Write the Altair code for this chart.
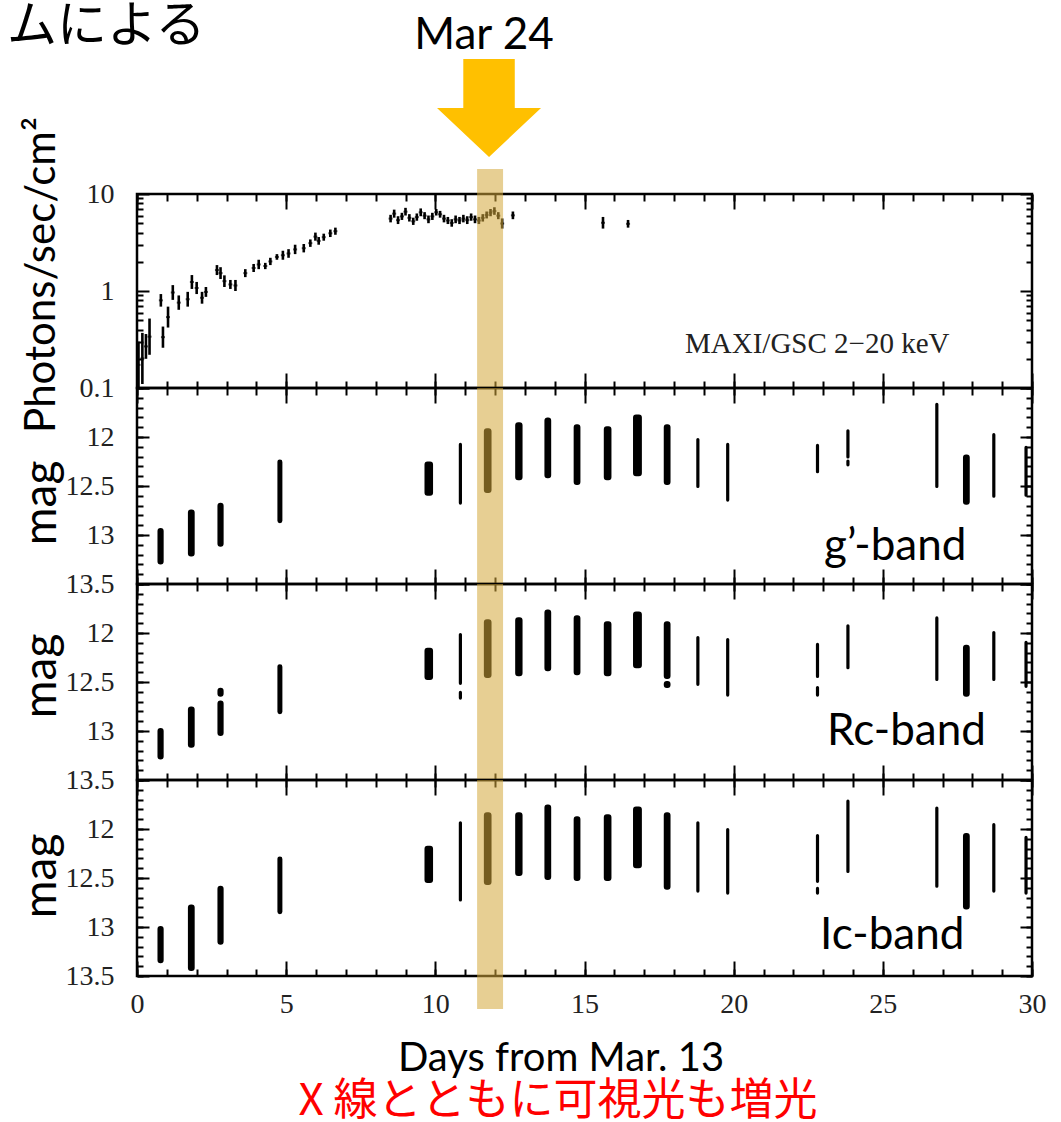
import altair as alt
import pandas as pd

# ---------------- data ----------------
# MAXI/GSC 2-20 keV light curve: day, lower and upper end of each error bar
xray_day = [0.05, 0.18, 0.30, 0.42, 0.80, 0.87, 1.04, 1.20, 1.40, 1.70, 1.84, 2.00, 2.18, 2.31,
            2.68, 2.80, 2.93, 3.13, 3.30, 3.63, 3.91, 4.08, 4.30, 4.47, 4.69, 4.89, 5.08, 5.30,
            5.59, 5.81, 5.98, 6.09, 6.26, 6.48, 6.65,
            8.50, 8.62, 8.75, 8.88, 9.00, 9.13, 9.26, 9.38, 9.51, 9.64, 9.77, 9.90, 10.03, 10.16,
            10.29, 10.42, 10.55, 10.68, 10.81, 10.94, 11.07, 11.20, 11.33, 11.46, 11.59, 11.72,
            11.85, 11.98, 12.11, 12.24, 12.60, 15.62, 16.46]
xray_lo = [0.10, 0.11, 0.20, 0.22, 0.69, 0.26, 0.42, 0.81, 0.64, 0.69, 1.05, 0.93, 0.74, 0.87,
           1.46, 1.33, 1.10, 1.05, 1.00, 1.39, 1.57, 1.68, 1.68, 1.85, 2.10, 2.10, 2.20, 2.40,
           2.50, 2.85, 3.30, 3.00, 3.30, 3.60, 3.80,
           5.1, 5.7, 4.9, 5.4, 6.0, 5.2, 4.8, 5.3, 5.9, 5.5, 5.0, 5.4, 6.0, 5.7,
           5.1, 4.9, 4.6, 5.0, 4.9, 5.1, 4.9, 5.3, 5.0, 4.9, 5.2, 5.6,
           5.9, 6.1, 5.5, 4.4, 5.5, 4.4, 4.5]
xray_hi = [0.30, 0.37, 0.36, 0.52, 0.93, 0.43, 0.69, 1.15, 0.90, 0.98, 1.46, 1.24, 0.98, 1.10,
           1.85, 1.76, 1.45, 1.30, 1.30, 1.68, 1.90, 2.10, 1.95, 2.20, 2.40, 2.60, 2.70, 3.00,
           3.05, 3.40, 4.00, 3.60, 3.90, 4.30, 4.50,
           6.1, 6.9, 5.9, 6.4, 7.2, 6.2, 5.7, 6.3, 7.1, 6.5, 6.0, 6.4, 7.0, 6.7,
           6.1, 5.8, 5.5, 6.0, 5.8, 6.1, 5.9, 6.3, 6.0, 5.8, 6.2, 6.6,
           7.0, 7.3, 6.5, 5.6, 6.6, 5.8, 5.4]

# optical nights: start / end of the observing window (days from Mar. 13)
night_start = [0.72, 1.74, 2.73, 4.74, 9.67, 10.82, 11.66, 12.71, 13.69, 14.67, 15.68,
               16.66, 17.69, 18.78, 19.78, 22.79, 23.81, 26.79, 27.72, 28.70, 29.78]
night_end = [0.86, 1.90, 2.87, 4.84, 9.89, 10.86, 11.85, 12.89, 13.85, 14.83, 15.87,
             16.89, 17.85, 18.82, 19.82, 22.83, 23.85, 26.83, 27.88, 28.74, 29.82]

# magnitude range covered each night
g_lo = [12.94, 12.75, 12.68, 12.24, 12.26, 12.07, 11.92, 11.86, 11.81, 11.88, 11.90,
        11.78, 11.88, 12.02, 12.07, 12.08, 11.93, 11.66, 12.19, 11.97, 12.10]
g_hi = [13.29, 13.21, 13.11, 12.87, 12.59, 12.68, 12.56, 12.43, 12.41, 12.48, 12.43,
        12.39, 12.48, 12.51, 12.65, 12.36, 12.21, 12.51, 12.68, 12.61, 12.60]
r_lo = [12.98, 12.76, 12.70, 12.33, 12.16, 12.01, 11.87, 11.85, 11.77, 11.83, 11.89,
        11.79, 11.89, 12.04, 12.06, 12.11, 11.92, 11.84, 12.13, 11.99, 12.09]
r_hi = [13.28, 13.16, 13.04, 12.82, 12.47, 12.52, 12.45, 12.43, 12.38, 12.42, 12.43,
        12.35, 12.46, 12.53, 12.64, 12.45, 12.36, 12.48, 12.64, 12.48, 12.55]
i_lo = [13.00, 12.78, 12.59, 12.29, 12.18, 11.93, 11.84, 11.84, 11.76, 11.88, 11.86,
        11.78, 11.84, 11.93, 12.00, 12.06, 11.71, 11.78, 12.05, 11.95, 12.08]
i_hi = [13.36, 13.44, 13.17, 12.86, 12.54, 12.73, 12.56, 12.47, 12.51, 12.52, 12.52,
        12.39, 12.61, 12.64, 12.66, 12.54, 12.44, 12.59, 12.81, 12.64, 12.66]

# isolated short segments (night number, 1-based)
g_extra_night = [17]
g_extra_lo = [12.24]
g_extra_hi = [12.29]
r_extra_night = [3, 6, 13, 16]
r_extra_lo = [12.57, 12.60, 12.50, 12.55]
r_extra_hi = [12.64, 12.67, 12.55, 12.64]
i_extra_night = [16]
i_extra_lo = [12.60]
i_extra_hi = [12.66]

# highlighted day (Mar 24) and arrow
band_day = [11.40, 12.27]
arrow_day = [11.80]

# axis tick values
x_major = [0, 5, 10, 15, 20, 25, 30]
x_minor = list(range(0, 31))
flux_major = [0.1, 1, 10]
flux_minor = [0.2, 0.3, 0.4, 0.5, 0.6, 0.7, 0.8, 0.9, 2, 3, 4, 5, 6, 7, 8, 9]
mag_labels = [12, 12.5, 13, 13.5]
mag_major = [11.5, 12, 12.5, 13, 13.5]
mag_minor = [round(11.5 + 0.1 * k, 1) for k in range(21)]

# texts
band_names = ["g\u2019-band", "Rc-band", "Ic-band"]

# ---------------- layout / styles ----------------
W = 895
H1 = 194
H = 196
SERIF = "Liberation Serif"
SANS = "Lato"
CJK = "Noto Sans CJK JP"
BAND_COLOR = "#D4A73A"
ARROW = "M -0.495 -0.94 L 0.495 -0.94 L 0.495 0 L 1 0 L 0 0.94 L -1 0 L -0.495 0 Z"

xsc = alt.Scale(domain=[0, 30], nice=False, zero=False)
flux_sc = alt.Scale(type="log", domain=[0.1, 10], nice=False)
mag_sc = alt.Scale(domain=[11.5, 13.5], reverse=True, nice=False, zero=False)


def tick_axis(orient, values, size):
    return alt.Axis(orient=orient, values=values, tickSize=size, offset=-size,
                    domain=False, labels=False, grid=False, title=None,
                    ticks=True, tickColor="black", tickWidth=2)


def axis_layers(ydom, ysc, ymaj, ymin, ylab, xlabels):
    adf = pd.DataFrame({"x": [0, 30], "y": ydom})
    base = alt.Chart(adf).mark_point(opacity=0)
    layers = []
    for orient in ["bottom", "top"]:
        for vals, size in [(x_major, 15), (x_minor, 7)]:
            layers.append(base.encode(
                x=alt.X("x:Q", scale=xsc, axis=tick_axis(orient, vals, size)),
                y=alt.Y("y:Q", scale=ysc, axis=None)))
    for orient in ["left", "right"]:
        for vals, size in [(ymaj, 12), (ymin, 6)]:
            layers.append(base.encode(
                x=alt.X("x:Q", scale=xsc, axis=None),
                y=alt.Y("y:Q", scale=ysc, axis=tick_axis(orient, vals, size))))
    layers.append(base.encode(
        x=alt.X("x:Q", scale=xsc, axis=None),
        y=alt.Y("y:Q", scale=ysc, axis=alt.Axis(
            orient="left", values=ylab, format="~g", labelFont=SERIF, labelFontSize=28,
            labelColor="#222", labelPadding=23, ticks=False, tickSize=0, domain=False,
            grid=False, title=None, labelFlush=False, labelOverlap=False))))
    if xlabels:
        layers.append(base.encode(
            x=alt.X("x:Q", scale=xsc, axis=alt.Axis(
                orient="bottom", values=x_major, format="d", labelFont=SERIF,
                labelFontSize=28, labelColor="#222", labelPadding=14, ticks=False,
                tickSize=0, domain=False, grid=False, title=None, labelFlush=False,
                labelOverlap=False)),
            y=alt.Y("y:Q", scale=ysc, axis=None)))
    return layers


def text_layer(txt, x, y, size, font=SANS, color="black", align="left", angle=None):
    kw = dict(font=font, fontSize=size, color=color, align=align, baseline="alphabetic")
    if angle is not None:
        kw["angle"] = angle
    return alt.Chart(pd.DataFrame({"t": [txt]})).mark_text(**kw).encode(
        text="t:N", x=alt.value(x), y=alt.value(y))


def band_layer(y0, y1):
    bdf = pd.DataFrame({"a": [band_day[0]], "b": [band_day[1]]})
    return alt.Chart(bdf).mark_rect(color=BAND_COLOR, opacity=0.55).encode(
        x=alt.X("a:Q", scale=xsc, axis=None), x2="b:Q",
        y=alt.value(y0), y2=alt.value(y1))


def optical_layers(lo, hi, ex_night, ex_lo, ex_hi):
    rows = []
    for k in range(len(night_start)):
        rows.append({"s": night_start[k], "e": night_end[k], "lo": lo[k], "hi": hi[k]})
    for n, a, b in zip(ex_night, ex_lo, ex_hi):
        rows.append({"s": night_start[n - 1], "e": night_end[n - 1], "lo": a, "hi": b})
    df = pd.DataFrame(rows)
    return [alt.Chart(df).mark_rect(color="black", stroke="black", strokeWidth=2,
                                    cornerRadius=2).encode(
        x=alt.X("s:Q", scale=xsc, axis=None), x2="e:Q",
        y=alt.Y("lo:Q", scale=mag_sc, axis=None), y2="hi:Q")]


# ---------------- panel 1 : X-ray ----------------
xdf = pd.DataFrame({"day": xray_day, "lo": xray_lo, "hi": xray_hi})
xdf["mid"] = (xdf["lo"] * xdf["hi"]) ** 0.5
xr_rule = alt.Chart(xdf).mark_rule(color="black", strokeWidth=2.6).encode(
    x=alt.X("day:Q", scale=xsc, axis=None),
    y=alt.Y("lo:Q", scale=flux_sc, axis=None), y2="hi:Q")
xr_tick = alt.Chart(xdf).mark_tick(color="black", orient="horizontal", size=4,
                                   thickness=2).encode(
    x=alt.X("day:Q", scale=xsc, axis=None),
    y=alt.Y("mid:Q", scale=flux_sc, axis=None))

anchor = alt.Chart(pd.DataFrame({"a": [0]})).mark_rule(opacity=0, strokeWidth=0.01).encode(
    x=alt.value(-135), x2=alt.value(-134), y=alt.value(-192), y2=alt.value(-192))
arrow = alt.Chart(pd.DataFrame({"day": arrow_day})).mark_point(
    shape=ARROW, size=10816, filled=True, color="#FFC000", opacity=1, strokeWidth=0).encode(
    x=alt.X("day:Q", scale=xsc, axis=None), y=alt.value(-86))

p1 = alt.layer(
    xr_rule, xr_tick, band_layer(-25, H1),
    *axis_layers([0.1, 10], flux_sc, flux_major, flux_minor, flux_major, False),
    anchor, arrow,
    text_layer("ムによる", -130, -152, 50, font=CJK),
    text_layer("Mar 24", 347, -145, 44, align="center"),
    text_layer("Photons/sec/cm\u00b2", -82, 81, 42, align="center", angle=270),
    text_layer("MAXI/GSC 2\u221220 keV", 548, 159, 29, font=SERIF, color="#222"),
).resolve_axis(x="independent", y="independent").properties(width=W, height=H1)

# ---------------- optical panels ----------------
def mag_panel(lo, hi, exn, exl, exh, name, name_xy, mag_y, last=False):
    band_bottom = 229 if last else H
    layers = optical_layers(lo, hi, exn, exl, exh)
    layers.append(band_layer(0, band_bottom))
    layers += axis_layers([11.5, 13.5], mag_sc, mag_major, mag_minor, mag_labels, last)
    layers.append(text_layer("mag", -81, mag_y, 46, align="center", angle=270))
    layers.append(text_layer(name, name_xy[0], name_xy[1], 44))
    if last:
        layers.append(text_layer("Days from Mar. 13", 424, 291, 40, align="center"))
        layers.append(text_layer("X 線とともに可視光も増光", 421, 335, 44, font=CJK,
                                 color="#FF0000", align="center"))
    return alt.layer(*layers).resolve_axis(x="independent", y="independent").properties(
        width=W, height=H)


p2 = mag_panel(g_lo, g_hi, g_extra_night, g_extra_lo, g_extra_hi, band_names[0], (687, 172), 115)
p3 = mag_panel(r_lo, r_hi, r_extra_night, r_extra_lo, r_extra_hi, band_names[1], (690, 161), 92)
p4 = mag_panel(i_lo, i_hi, i_extra_night, i_extra_lo, i_extra_hi, band_names[2], (683, 169), 96,
               last=True)

chart = alt.vconcat(p1, p2, p3, p4, spacing=0, bounds="flush").properties(
    padding=0, background="white"
).configure_view(stroke="black", strokeWidth=2.5).configure_axis(
    grid=False, labelFont=SERIF, labelFontSize=28, labelColor="#222")

chart.save("out.html", embed_options={"renderer": "svg", "actions": False})
